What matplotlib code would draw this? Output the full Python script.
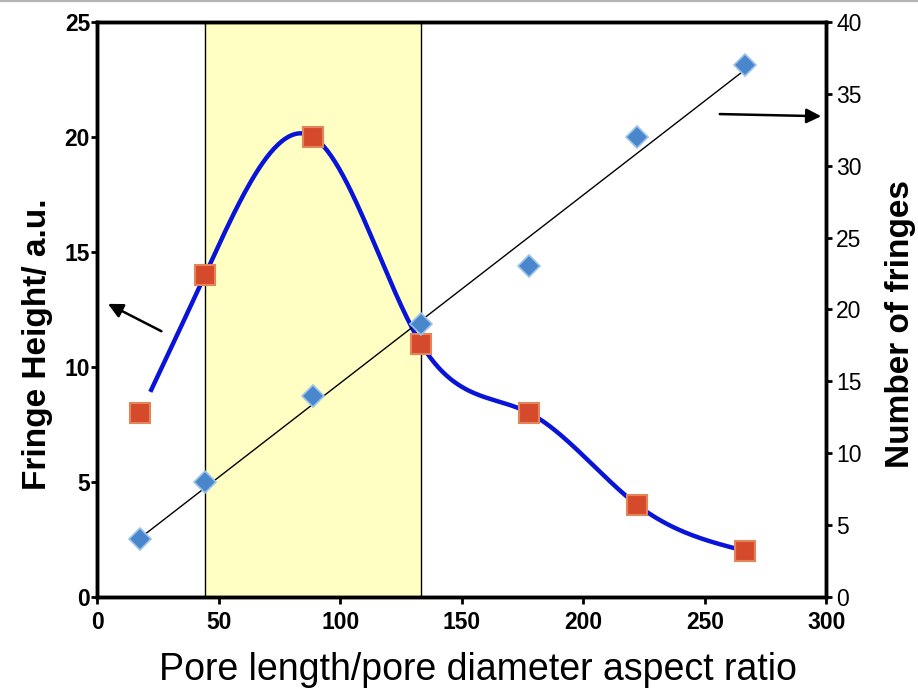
import numpy as np
import matplotlib
matplotlib.use("Agg")
import matplotlib.pyplot as plt

plt.rcParams['font.family'] = ['Liberation Sans', 'DejaVu Sans']

# values
aspect_ratio = [17.8, 44.4, 88.9, 133.3, 177.8, 222.2, 266.7]
fringe_height = [8, 14, 20, 11, 8, 4, 2]
n_fringes = [4, 8, 14, 19, 23, 32, 37]
window = [44.4, 133.3]


def natural_spline(x, y, xs):
    # plain natural cubic spline, just for the smooth guide curve
    x = np.asarray(x, float)
    y = np.asarray(y, float)
    n = len(x)
    h = np.diff(x)
    A = np.zeros((n, n))
    b = np.zeros(n)
    A[0, 0] = A[-1, -1] = 1.0
    for i in range(1, n - 1):
        A[i, i - 1] = h[i - 1]
        A[i, i] = 2 * (h[i - 1] + h[i])
        A[i, i + 1] = h[i]
        b[i] = 3 * ((y[i + 1] - y[i]) / h[i] - (y[i] - y[i - 1]) / h[i - 1])
    c = np.linalg.solve(A, b)
    out = np.empty_like(xs)
    for k, xv in enumerate(xs):
        i = min(max(np.searchsorted(x, xv) - 1, 0), n - 2)
        dx = xv - x[i]
        bb = (y[i + 1] - y[i]) / h[i] - h[i] * (2 * c[i] + c[i + 1]) / 3
        d = (c[i + 1] - c[i]) / (3 * h[i])
        out[k] = y[i] + bb * dx + c[i] * dx ** 2 + d * dx ** 3
    return out


fig = plt.figure(figsize=(9.18, 6.9), dpi=100)
ax = fig.add_axes([0.1057, 0.1348, 0.7945, 0.8333])
ax2 = ax.twinx()

# thin grey rule along the top edge of the picture
fig.add_artist(plt.Line2D([0, 1], [0.998, 0.998], color='#B4B4B4', lw=1.6))

ax.axvspan(window[0], window[1], color='#FFFFC4', zorder=0)
for xv in window:
    ax.axvline(xv, color='black', lw=1.0, zorder=1)

# smooth curve through the fringe heights
xs = np.linspace(aspect_ratio[0] + 4.5, aspect_ratio[-1] - 4, 300)
ax.plot(xs, natural_spline(aspect_ratio, fringe_height, xs), color='#0A14D8', lw=3.2, zorder=3)
ax.plot(aspect_ratio, fringe_height, 's', ms=15, color='#D64A2C', mec='#E2855A', mew=1.5, zorder=4)

# number of fringes with linear fit
k, m = np.polyfit(aspect_ratio, n_fringes, 1)
xf = np.array([aspect_ratio[0], aspect_ratio[-1]])
ax2.plot(xf, k * xf + m, color='black', lw=1.0, zorder=2)
ax2.plot(aspect_ratio, n_fringes, 'D', ms=11, color='#4A86CC', mec='#9CC3EA', mew=1.2, zorder=3)

ax.set_xlim(0, 300)
ax.set_ylim(0, 25)
ax2.set_ylim(0, 40)
ax.set_xticks(np.arange(0, 301, 50))
ax.set_yticks(np.arange(0, 26, 5))
ax2.set_yticks(np.arange(0, 41, 5))

for a in (ax, ax2):
    for s in a.spines.values():
        s.set_linewidth(2.5)
ax.tick_params(axis='x', width=2, length=5, labelsize=16.5, pad=5)
ax.tick_params(axis='y', width=2, length=4, labelsize=16.5, pad=1)
ax2.tick_params(axis='y', width=2, length=4, labelsize=16.5, pad=3)
for lab in ax.get_xticklabels() + ax.get_yticklabels():
    lab.set_fontweight('bold')

ax.set_xlabel("Pore length/pore diameter aspect ratio", fontsize=27, labelpad=13)
ax.set_ylabel("Fringe Height/ a.u.", fontsize=24, fontweight='bold', labelpad=8)
ax2.set_ylabel("Number of fringes", fontsize=24, fontweight='bold', labelpad=17)
ax.xaxis.label.set_x(0.522)
ax.yaxis.label.set_y(0.44)
ax2.yaxis.label.set_y(0.475)

# arrows pointing to the axes
ax.annotate("", xy=(3.5, 12.8), xytext=(27.5, 11.5),
            arrowprops=dict(arrowstyle='-|>', color='black', lw=1.8, mutation_scale=22))
ax.annotate("", xy=(299, 20.9), xytext=(255, 21.0),
            arrowprops=dict(arrowstyle='-|>', color='black', lw=1.8, mutation_scale=22))

fig.savefig("out.png", dpi=100)
